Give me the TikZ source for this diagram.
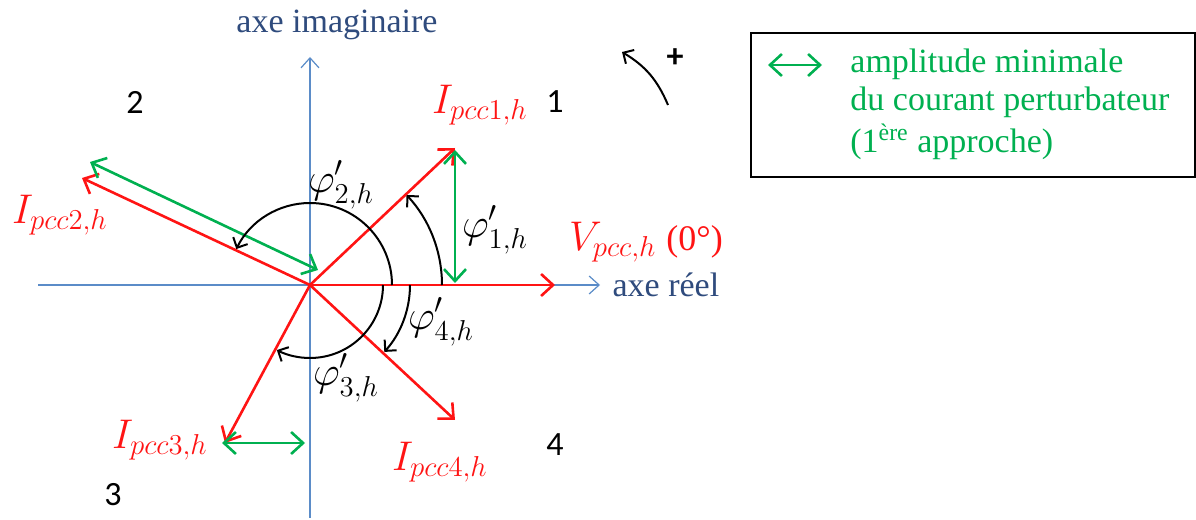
\documentclass[tikz,border=0pt]{standalone}
\usepackage{amsmath, amssymb}
\usepackage{fontspec}
\setmainfont{Liberation Serif}
\newfontfamily\numfont{Carlito}
\usetikzlibrary{arrows.meta}

\definecolor{vred}{RGB}{255,20,20}
\definecolor{vgreen}{RGB}{0,176,80}
\definecolor{axblue}{RGB}{91,140,200}
\definecolor{axtext}{RGB}{47,75,125}

\begin{document}
\begin{tikzpicture}[x=0.5pt, y=0.5pt,
    font=\rmfamily\fontsize{17}{20}\selectfont,
    axis/.style={axblue, line width=0.6pt, -{Straight Barb[length=5pt, width=9pt]}},
    phasor/.style={vred, line width=1.3pt, -{Straight Barb[length=6pt, width=11pt]}},
    ampl/.style={vgreen, line width=1.3pt, {Straight Barb[length=6pt, width=11pt]}-{Straight Barb[length=6pt, width=11pt]}},
    anglearc/.style={black, line width=1pt, -{Straight Barb[length=4pt, width=8pt]}},
    mathlbl/.style={font=\fontsize{20}{24}\selectfont},
    quadrant/.style={font=\numfont\fontsize{17}{20}\selectfont}]
    % Bounding box
    \useasboundingbox (0,0) rectangle (1196,520);

    % Origin and tips
    \coordinate (O) at (310,235);
    \coordinate (reS) at (38,235);
    \coordinate (reE) at (600,235);
    \coordinate (imS) at (310,2);
    \coordinate (imE) at (310,463);
    \coordinate (V) at (555,235);
    \coordinate (I1) at (455,372);
    \coordinate (I2) at (82,342);
    \coordinate (I3) at (225,77);
    \coordinate (I4) at (455,100);

    % Axes
    \draw[axis] (reS) -- (reE) node[right, axtext, inner sep=6pt] (reLbl) {axe réel};
    \draw[axis] (imS) -- (imE);
    \node[axtext] (imLbl) at (337,495) {axe imaginaire};

    % Phasors
    \draw[phasor] (O) -- (V);
    \draw[phasor] (O) -- (I1);
    \draw[phasor] (O) -- (I2);
    \draw[phasor] (O) -- (I3);
    \draw[phasor] (O) -- (I4);

    % Minimal amplitude of the disturbing current
    \coordinate (g1a) at (455,370);
    \coordinate (g1b) at (455,237);
    \coordinate (g2a) at (90,358);
    \coordinate (g2b) at (318,250);
    \coordinate (g3a) at (222,77);
    \coordinate (g3b) at (305,77);
    \draw[ampl] (g1a) -- (g1b);
    \draw[ampl] (g2a) -- (g2b);
    \draw[ampl] (g3a) -- (g3b);

    % Phase angles
    \draw[anglearc] ([shift={(132,0)}]O) arc[start angle=0, end angle=43, radius=132];
    \draw[anglearc] ([shift={(82,0)}]O) arc[start angle=0, end angle=154, radius=82];
    \draw[anglearc] ([shift={(73,0)}]O) arc[start angle=0, end angle=-117, radius=73];
    \draw[anglearc] ([shift={(100,0)}]O) arc[start angle=0, end angle=-42, radius=100];
    \node[mathlbl] (phi1) at (495,290) {$\varphi'_{1,h}$};
    \node[mathlbl] (phi2) at (341,335) {$\varphi'_{2,h}$};
    \node[mathlbl] (phi3) at (346,142) {$\varphi'_{3,h}$};
    \node[mathlbl] (phi4) at (441,198) {$\varphi'_{4,h}$};

    % Phasor labels
    \node[vred, mathlbl] (V1) at (646,278) {$V_{pcc,h}$ {\rmfamily\fontsize{18}{20}\selectfont(0°)}};
    \node[vred, mathlbl] (lI1) at (480,415) {$I_{pcc1,h}$};
    \node[vred, mathlbl] (lI2) at (60,305) {$I_{pcc2,h}$};
    \node[vred, mathlbl] (lI3) at (160,80) {$I_{pcc3,h}$};
    \node[vred, mathlbl] (lI4) at (440,58) {$I_{pcc4,h}$};

    % Quadrants
    \node[quadrant] (q1) at (555,418) {1};
    \node[quadrant] (q2) at (135,418) {2};
    \node[quadrant] (q3) at (113,25) {3};
    \node[quadrant] (q4) at (555,75) {4};

    % Positive sense of rotation
    \coordinate (rotS) at (668,415);
    \coordinate (rotE) at (622,468);
    \draw[anglearc] (rotS) to[bend right=18] (rotE);
    \node[quadrant] (plus) at (675,462) {\textbf{+}};

    % Legend
    \node[draw, line width=0.8pt, minimum width=444pt*0.5, minimum height=144pt*0.5, anchor=south west] (legend) at (750,342) {};
    \coordinate (legA) at (768,455);
    \coordinate (legB) at (822,455);
    \draw[ampl] (legA) -- (legB);
    \node[vgreen, align=left, anchor=north west, inner sep=0pt] (legTxt) at (850,471)
        {\rmfamily amplitude minimale\\[-1pt] du courant perturbateur\\[1pt] (1\textsuperscript{ère} approche)};
\end{tikzpicture}
\end{document}
